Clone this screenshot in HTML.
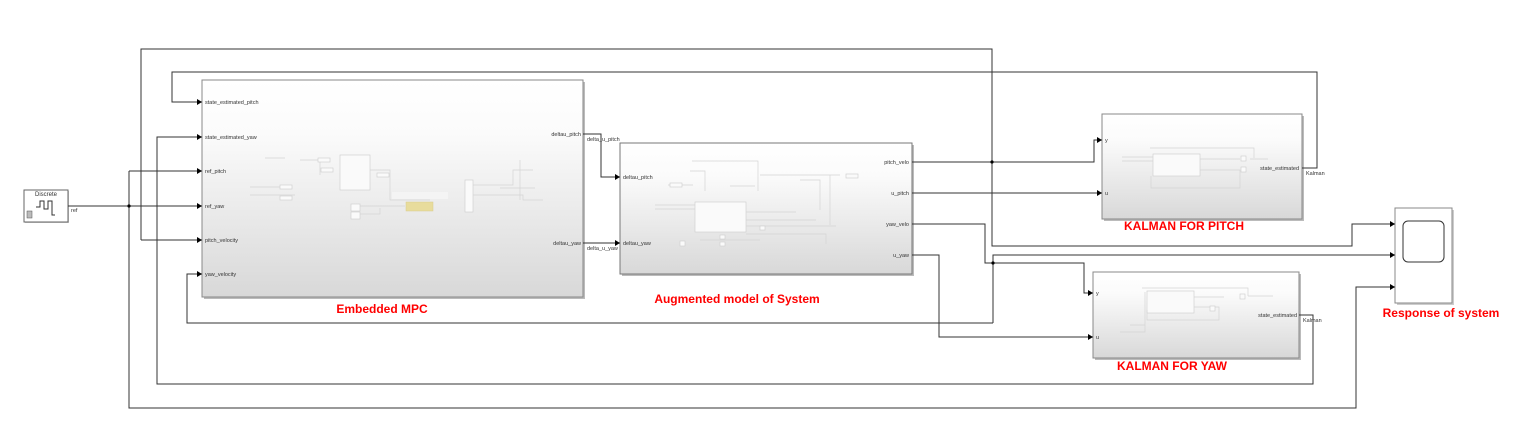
<!DOCTYPE html>
<html><head><meta charset="utf-8"><style>
html,body{margin:0;padding:0;background:#fff;}
svg{display:block;}
text{font-family:"Liberation Sans",sans-serif;}
.s{font-size:5.5px;fill:#333;}
.r{font-size:12px;font-weight:bold;fill:#f00;}
.w{stroke:#333;stroke-width:1;fill:none;}
.f{stroke:#d4d4d4;stroke-width:0.7;fill:none;}
.fb{stroke:#d0d0d0;stroke-width:0.7;fill:#fafafa;}
</style></head><body>
<svg width="1525" height="437" viewBox="0 0 1525 437" xmlns="http://www.w3.org/2000/svg">
<defs>
<linearGradient id="g" x1="0" y1="0" x2="0" y2="1">
<stop offset="0" stop-color="#ffffff"/><stop offset="0.25" stop-color="#fbfbfb"/><stop offset="1" stop-color="#d8d8d8"/>
</linearGradient>
<marker id="a" markerWidth="6" markerHeight="6" refX="5" refY="3" orient="auto" markerUnits="userSpaceOnUse"><path d="M0,0 L5,3 L0,6z" fill="#000"/></marker>
</defs>

<g>
<rect x="204" y="82" width="381" height="217" fill="#bbb"/>
<rect x="202" y="80" width="381" height="217" fill="url(#g)" stroke="#888" stroke-width="1"/>
<rect x="622" y="145" width="292" height="131" fill="#bbb"/>
<rect x="620" y="143" width="292" height="131" fill="url(#g)" stroke="#777" stroke-width="1"/>
<rect x="1104" y="116" width="200" height="105" fill="#bbb"/>
<rect x="1102" y="114" width="200" height="105" fill="url(#g)" stroke="#888" stroke-width="1"/>
<rect x="1095" y="274" width="206" height="86" fill="#bbb"/>
<rect x="1093" y="272" width="206" height="86" fill="url(#g)" stroke="#888" stroke-width="1"/>
<rect x="1397" y="210" width="57" height="95" fill="#ccc"/>
<rect x="1395" y="208" width="57" height="95" fill="#fff" stroke="#888" stroke-width="1"/>
<rect x="1403" y="221" width="41" height="41" rx="5" fill="#fff" stroke="#333" stroke-width="1"/>
<rect x="25" y="191" width="44" height="32" fill="#ccc"/>
<rect x="24" y="190" width="44" height="32" fill="#fff" stroke="#666" stroke-width="1"/>
<path d="M36,207 h4 v-6 h4 v8 h4 v-8 h4 v14 h3" class="w" stroke="#000"/>
<rect x="27" y="211" width="5" height="7" fill="#bbb" stroke="#555" stroke-width="0.5"/>
</g>

<g>
<rect x="340" y="155" width="30" height="35" class="fb"/>
<rect x="406" y="202" width="27" height="9" fill="#e8dc9c" stroke="#d8cc8c" stroke-width="0.5"/>
<rect x="392" y="192" width="56" height="7" fill="#f4f4f4"/>
<rect x="465" y="180" width="8" height="32" class="fb"/>
<rect x="351" y="204" width="9" height="7" class="fb"/><rect x="351" y="212" width="9" height="7" class="fb"/>
<path d="M265,158 h20 M300,160 h20 v15 M250,187 h30 M250,195 h45 M370,170 h20 v30 h40 M360,206 h45 M360,214 h20 v-6 M473,185 h40 v-15 h20 M473,195 h50 v5 h20 M520,160 v40 M500,188 h35" class="f"/>
<rect x="318" y="158" width="12" height="4" class="fb"/><rect x="321" y="168" width="12" height="4" class="fb"/>
<rect x="377" y="173" width="12" height="4" class="fb"/><rect x="280" y="185" width="12" height="4" class="fb"/><rect x="280" y="196" width="12" height="4" class="fb"/>
</g>
<g>
<rect x="695" y="202" width="51" height="30" class="fb"/>
<path d="M692,161 h66 v30 M690,171 h15 v20 M730,186 h25 M668,185 h25 M655,205 h40 M655,209 h40 M746,212 h50 M746,220 h70 M746,226 h90 M746,234 h80 v10 M700,240 h60 M800,180 h20 v30 M760,175 h80 M830,175 v50" class="f"/>
<rect x="760" y="226" width="5" height="4" class="fb"/><rect x="720" y="235" width="5" height="4" class="fb"/><rect x="720" y="242" width="5" height="4" class="fb"/><rect x="680" y="241" width="5" height="5" class="fb"/>
<rect x="846" y="174" width="12" height="4" class="fb"/><rect x="670" y="183" width="12" height="4" class="fb"/>
</g>
<g>
<rect x="1153" y="154" width="47" height="22" class="fb"/>
<path d="M1122,157 h31 M1122,161 h31 M1150,148 h104 v10 M1200,159 h40 M1200,170 h40 v18 h-89 v-12 M1250,159 h18" class="f"/>
<rect x="1241" y="156" width="5" height="5" class="fb"/><rect x="1241" y="167" width="5" height="5" class="fb"/>
<rect x="1147" y="291" width="47" height="22" class="fb"/>
<path d="M1142,288 h106 v8 M1194,297 h30 M1194,307 h25 v13 h-72 v-10 M1120,332 h25 v-40 M1130,325 h15 M1248,296 h25" class="f"/>
<rect x="1240" y="294" width="5" height="5" class="fb"/><rect x="1210" y="306" width="5" height="5" class="fb"/>
</g>

<g class="w">
<path d="M68,206 H202" marker-end="url(#a)"/>
<path d="M129,171 V408 H1356 V287 H1395" marker-end="url(#a)"/>
<path d="M129,171 H202" marker-end="url(#a)"/>
<path d="M141,240 V49 H992 V246 H1352 V224 H1395" marker-end="url(#a)"/>
<path d="M141,240 H202" marker-end="url(#a)"/>
<path d="M1302,168 H1317 V72 H172 V102 H202" marker-end="url(#a)"/>
<path d="M1299,315 H1313 V384 H157 V137 H202" marker-end="url(#a)"/>
<path d="M993,323 H187 V274 H202" marker-end="url(#a)"/>
<path d="M583,134 H601 V177 H620" marker-end="url(#a)"/>
<path d="M583,243 H620" marker-end="url(#a)"/>
<path d="M912,162 H1094 V140 H1102" marker-end="url(#a)"/>
<path d="M912,193 H1102" marker-end="url(#a)"/>
<path d="M912,224 H985 V263 H1084 V293 H1093" marker-end="url(#a)"/>
<path d="M993,263 V323"/>
<path d="M993,263 V255 H1395" marker-end="url(#a)"/>
<path d="M912,255 H939 V337 H1093" marker-end="url(#a)"/>
</g>
<g fill="#000">
<circle cx="129" cy="206" r="1.6"/><circle cx="992" cy="162" r="1.6"/><circle cx="993" cy="263" r="1.6"/>
</g>

<g class="s">
<text x="46" y="196" text-anchor="middle" font-size="6">Discrete</text>
<text x="71" y="212">ref</text>
<text x="205" y="104">state_estimated_pitch</text>
<text x="205" y="139">state_estimated_yaw</text>
<text x="205" y="173">ref_pitch</text>
<text x="205" y="208">ref_yaw</text>
<text x="205" y="242">pitch_velocity</text>
<text x="205" y="276">yaw_velocity</text>
<text x="581" y="136" text-anchor="end">deltau_pitch</text>
<text x="581" y="245" text-anchor="end">deltau_yaw</text>
<text x="587" y="141">delta_u_pitch</text>
<text x="587" y="250">delta_u_yaw</text>
<text x="623" y="179">deltau_pitch</text>
<text x="623" y="245">deltau_yaw</text>
<text x="909" y="164" text-anchor="end">pitch_velo</text>
<text x="909" y="195" text-anchor="end">u_pitch</text>
<text x="909" y="226" text-anchor="end">yaw_velo</text>
<text x="909" y="257" text-anchor="end">u_yaw</text>
<text x="1105" y="142">y</text>
<text x="1105" y="195">u</text>
<text x="1299" y="170" text-anchor="end">state_estimated</text>
<text x="1306" y="175">Kalman</text>
<text x="1096" y="295">y</text>
<text x="1096" y="339">u</text>
<text x="1297" y="317" text-anchor="end">state_estimated</text>
<text x="1303" y="322">Kalman</text>
</g>

<g class="r" text-anchor="middle">
<text x="382" y="313">Embedded MPC</text>
<text x="737" y="303">Augmented model of System</text>
<text x="1184" y="230">KALMAN FOR PITCH</text>
<text x="1172" y="370">KALMAN FOR YAW</text>
<text x="1441" y="317">Response of system</text>
</g>
</svg>
</body></html>
